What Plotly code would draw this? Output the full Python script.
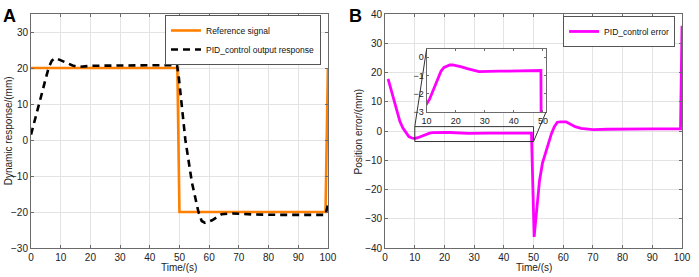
import plotly.graph_objects as go

# ---------------- data ----------------
ref_t = [0, 49.3, 50.0, 99.2, 100.0]
ref_v = [20, 20, -20, -20, 20]

resp_t = [0, 1, 2, 3, 4, 5, 6, 7, 8, 9, 10, 12, 14, 16, 18, 20, 30, 40, 49.2,
          49.8, 52.0, 54.2, 56.4, 57.5, 58.6, 61.0, 64.2, 68, 75, 85, 99.2, 100]
resp_v = [1.5, 4.5, 7.5, 10.3, 14.0, 17.2, 20.2, 22.0, 22.7, 22.5, 22.1, 21.4, 20.7,
          20.3, 20.4, 20.6, 20.7, 20.7, 20.8,
          17.3, 0.0, -11.8, -20.0, -22.5, -23.0, -22.3, -20.6, -20.4, -20.7, -20.8, -20.8, -18.0]

err_t = [1, 2, 3, 4, 5, 6, 7, 8, 9, 10, 11, 12, 13, 14, 15, 16, 17, 18, 19, 20, 22, 24,
         26, 28, 35, 49.3, 50.2, 51, 52, 53, 54, 55, 56, 57, 58, 59, 60, 61, 62, 63,
         64, 66, 68, 70, 75, 80, 90, 99.5, 100]
err_v = [17.8, 14.0, 10.2, 6.3, 3.2, 1.0, -0.6, -1.9, -2.4, -2.55, -2.3, -1.9, -1.45,
         -1.05, -0.75, -0.55, -0.47, -0.42, -0.42, -0.45, -0.52, -0.62, -0.72, -0.78,
         -0.76, -0.72, -36.2, -27, -17, -11, -7.5, -4.0, -1.0, 1.5, 3.0, 3.1, 3.0, 3.1,
         2.6, 2.0, 1.5, 0.9, 0.6, 0.5, 0.6, 0.7, 0.7, 0.7, 36]

x_ticks = [0, 10, 20, 30, 40, 50, 60, 70, 80, 90, 100]
yA_ticks = [-30, -20, -10, 0, 10, 20, 30]
yB_ticks = [-40, -30, -20, -10, 0, 10, 20, 30, 40]
inset_xticks = [10, 20, 30, 40, 50]
inset_yticks = [-3, -2, -1, 0]

# zoom box in panel B data coords
zoom_x = [10, 50]
zoom_y = [-3.6, 1.5]

# ---------------- layout constants ----------------
W, H = 699, 277
ML, MR, MT, MB = 31, 8, 10, 29
PW, PH = W - ML - MR, H - MT - MB

def px_x(p):
    return (p - ML) / PW

def px_y(p):
    return (H - MB - p) / PH

domA = [px_x(31), px_x(332)]
domB = [px_x(390), px_x(691)]
dom_in_x = [px_x(432), px_x(553)]
dom_in_y = [px_y(110), px_y(46)]

FONT = "Liberation Sans, Arial, sans-serif"
GRID = "#e3e3e3"
FRAME = "#6b6b6b"

fig = go.Figure()
fig.add_trace(go.Scatter(x=ref_t, y=ref_v, mode="lines", name="Reference signal",
                         line=dict(color="#FF8000", width=2.6), xaxis="x", yaxis="y",
                         legend="legend"))
fig.add_trace(go.Scatter(x=resp_t, y=resp_v, mode="lines", name="PID_control output response",
                         line=dict(color="black", width=2.6, dash="7px,5px"),
                         xaxis="x", yaxis="y", legend="legend"))
fig.add_trace(go.Scatter(x=err_t, y=err_v, mode="lines", name="PID_control error",
                         line=dict(color="#FF00FF", width=2.8), xaxis="x2", yaxis="y2",
                         legend="legend2"))
fig.add_trace(go.Scatter(x=err_t, y=err_v, mode="lines", showlegend=False,
                         line=dict(color="#FF00FF", width=2.8), xaxis="x3", yaxis="y3"))

axis_common = dict(showline=True, mirror="ticks", linecolor=FRAME, linewidth=1,
                   ticks="inside", ticklen=3, tickcolor=FRAME, zeroline=False,
                   tickfont=dict(size=10, color="#222"))

xB_range = [0, 100]
yB_range = [-40, 40]

fig.update_layout(
    width=W, height=H,
    margin=dict(l=ML, r=MR, t=MT, b=MB),
    paper_bgcolor="white", plot_bgcolor="white",
    font=dict(family=FONT, size=10, color="#222"),
    xaxis=dict(domain=domA, range=[0, 100], tickvals=x_ticks, showgrid=True,
               gridcolor=GRID, anchor="y", **axis_common),
    yaxis=dict(domain=[0, 1], range=[-30, 35], tickvals=yA_ticks, showgrid=True,
               gridcolor=GRID, anchor="x", **axis_common),
    xaxis2=dict(domain=domB, range=xB_range, tickvals=x_ticks, showgrid=True,
                gridcolor=GRID, anchor="y2", **axis_common),
    yaxis2=dict(domain=[0, 1], range=yB_range, tickvals=yB_ticks, showgrid=True,
                gridcolor=GRID, anchor="x2", **axis_common),
    xaxis3=dict(domain=dom_in_x, range=[10, 51], tickvals=inset_xticks, showgrid=False,
                anchor="y3", showline=True, mirror="ticks", linecolor=FRAME,
                ticks="inside", ticklen=2, tickcolor=FRAME, zeroline=False,
                tickfont=dict(size=9, color="#222")),
    yaxis3=dict(domain=dom_in_y, range=[-3, 0.43], tickvals=inset_yticks, showgrid=False,
                anchor="x3", showline=True, mirror="ticks", linecolor=FRAME,
                ticks="inside", ticklen=2, tickcolor=FRAME, zeroline=False,
                tickfont=dict(size=9, color="#222")),
    legend=dict(x=px_x(325), y=px_y(11), xanchor="right", yanchor="top",
                bgcolor="white", bordercolor="#555", borderwidth=1,
                font=dict(size=8.5, color="#111"), tracegroupgap=0, itemwidth=30),
    legend2=dict(x=px_x(684), y=px_y(12), xanchor="right", yanchor="top",
                 bgcolor="white", bordercolor="#555", borderwidth=1,
                 font=dict(size=8.5, color="#111"), itemwidth=30),
)

# inset corners converted to panel-B data coordinates
def pxB_to_t(p):
    return xB_range[0] + (p - 390) / (691 - 390) * (xB_range[1] - xB_range[0])

def pyB_to_v(p):
    return yB_range[1] - (p - MT) / PH * (yB_range[1] - yB_range[0])

in_left, in_right = pxB_to_t(432), pxB_to_t(553)
in_top, in_bottom = pyB_to_v(46), pyB_to_v(110)

fig.add_shape(type="rect", xref="x2", yref="y2", x0=zoom_x[0], x1=zoom_x[1],
              y0=zoom_y[0], y1=zoom_y[1], line=dict(color="#333", width=1), layer="above")
fig.add_shape(type="line", xref="x2", yref="y2", x0=in_left, y0=in_top,
              x1=zoom_x[0], y1=zoom_y[1], line=dict(color="#333", width=1), layer="above")
fig.add_shape(type="line", xref="x2", yref="y2", x0=in_right, y0=in_bottom,
              x1=zoom_x[1], y1=zoom_y[0], line=dict(color="#333", width=1), layer="above")

annotations = [
    dict(text="<b>A</b>", x=px_x(1), y=px_y(0), xanchor="left", yanchor="top",
         font=dict(size=18, color="black")),
    dict(text="<b>B</b>", x=px_x(351), y=px_y(0), xanchor="left", yanchor="top",
         font=dict(size=18, color="black")),
    dict(text="Dynamic response/(mm)", x=px_x(8), y=0.5, textangle=-90,
         xanchor="center", yanchor="middle", font=dict(size=10)),
    dict(text="Position error/(mm)", x=px_x(363), y=0.5, textangle=-90,
         xanchor="center", yanchor="middle", font=dict(size=10)),
    dict(text="Time/(s)", x=(domA[0] + domA[1]) / 2, y=px_y(268),
         xanchor="center", yanchor="middle", font=dict(size=10)),
    dict(text="Time/(s)", x=(domB[0] + domB[1]) / 2, y=px_y(268),
         xanchor="center", yanchor="middle", font=dict(size=10)),
]
for a in annotations:
    a.update(xref="paper", yref="paper", showarrow=False)
fig.update_layout(annotations=annotations)

fig.write_html("out.html", config={"displayModeBar": False},
               post_script="document.body.style.margin='0';")
